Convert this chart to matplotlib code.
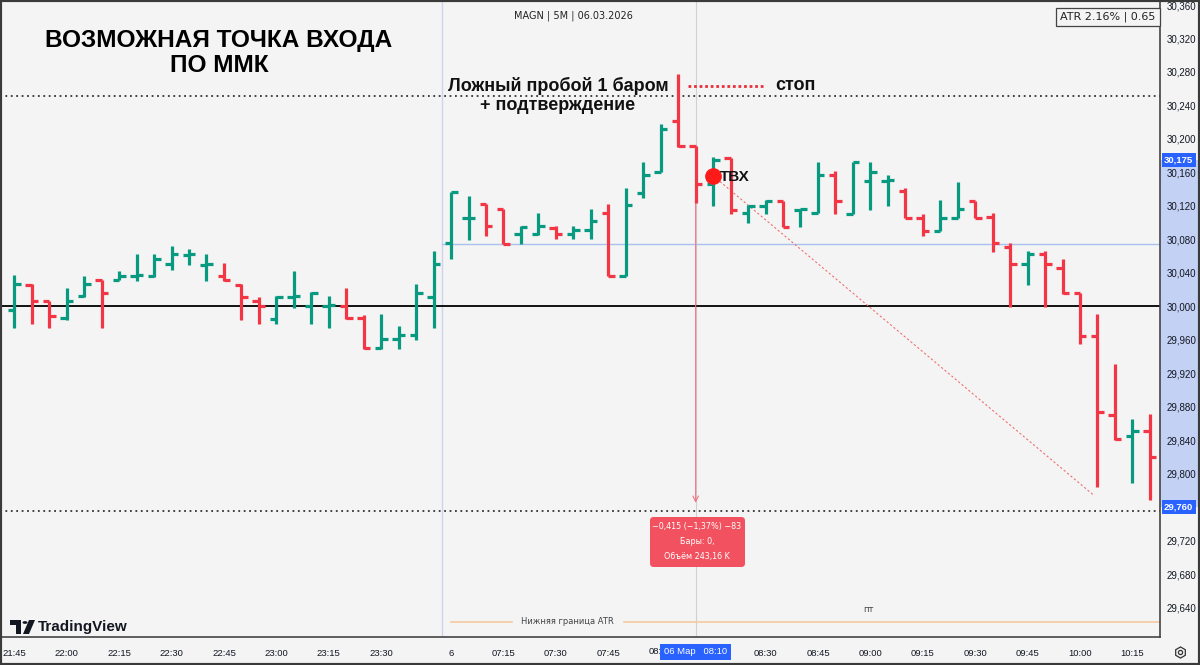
import matplotlib.pyplot as plt
from matplotlib.patches import FancyBboxPatch, Rectangle, Circle, Polygon, RegularPolygon
from matplotlib.ticker import FuncFormatter

plt.rcParams['font.family'] = ['Liberation Sans', 'DejaVu Sans']

# 5-минутные бары MAGN: вечер 05.03 (21:45-23:45) и утро 06.03 (07:00-10:25)
opens = [29996, 30026, 30007, 29986, 30012, 30032, 30032, 30036, 30036, 30051,
         30061, 30050, 30036, 30026, 30007, 29985, 30011, 30001, 30001, 30001,
         29986, 29950, 29961, 29966, 30011,
         30076, 30105, 30122, 30116, 30086, 30086, 30094, 30086, 30091, 30111,
         30036, 30136, 30161, 30222, 30192, 30146, 30177, 30111, 30120, 30126,
         30115, 30111, 30157, 30110, 30150, 30150, 30138, 30105, 30090, 30105,
         30126, 30107, 30071, 30051, 30062, 30046, 30016, 29965, 29870, 29845,
         29851]
highs = [30038, 30027, 30007, 30022, 30036, 30032, 30042, 30062, 30062, 30072,
         30068, 30062, 30052, 30027, 30011, 30012, 30042, 30017, 30012, 30022,
         29990, 29991, 29977, 30027, 30066,
         30137, 30132, 30122, 30116, 30096, 30112, 30096, 30096, 30116, 30122,
         30141, 30172, 30218, 30278, 30192, 30178, 30177, 30121, 30127, 30126,
         30116, 30172, 30162, 30172, 30172, 30157, 30141, 30110, 30127, 30148,
         30126, 30111, 30076, 30066, 30066, 30056, 30016, 29991, 29931, 29866,
         29871]
lows = [29974, 29979, 29974, 29984, 30011, 29974, 30031, 30030, 30035, 30044,
        30050, 30030, 30030, 29984, 29979, 29979, 29998, 29979, 29974, 29985,
        29949, 29949, 29949, 29960, 29974,
        30056, 30079, 30084, 30074, 30074, 30085, 30080, 30080, 30080, 30036,
        30036, 30130, 30160, 30190, 30124, 30120, 30110, 30100, 30110, 30095,
        30095, 30111, 30110, 30110, 30115, 30120, 30105, 30084, 30090, 30105,
        30105, 30065, 29999, 30025, 29999, 30015, 29955, 29784, 29840, 29789,
        29769]
closes = [30027, 30006, 29989, 30006, 30027, 30016, 30036, 30037, 30056, 30062,
          30062, 30051, 30032, 30011, 30001, 30011, 30012, 30016, 30002, 29986,
          29950, 29961, 29966, 30016, 30051,
          30137, 30106, 30096, 30074, 30095, 30096, 30086, 30091, 30102, 30036,
          30121, 30157, 30212, 30191, 30146, 30175, 30115, 30120, 30126, 30095,
          30116, 30157, 30126, 30172, 30161, 30151, 30105, 30090, 30105, 30116,
          30105, 30076, 30051, 30062, 30051, 30016, 29965, 29874, 29841, 29851,
          29820]

tick_pos = [0, 3, 6, 9, 12, 15, 18, 21, 25, 28, 31, 34, 43, 46, 49, 52, 55, 58, 61, 64]
tick_lbl = ["21:45", "22:00", "22:15", "22:30", "22:45", "23:00", "23:15", "23:30", "6",
            "07:15", "07:30", "07:45", "08:30", "08:45", "09:00", "09:15",
            "09:30", "09:45", "10:00", "10:15"]
price_ticks = [v for v in range(29640, 30361, 40) if v != 29760]

# уровни
lvl_zero = 30000
lvl_blue = 30075
lvl_top = 30251
lvl_bottom = 29755
entry_price = 30156
cur_price = 30175
target_price = 29760

GREEN = '#089981'
RED = '#f23645'
BG = '#f4f4f4'
W, H = 1200, 665


def fx(x):
    return x / W


def fy(y):
    return 1 - y / H


fig = plt.figure(figsize=(12, 6.65), dpi=100)
fig.patch.set_facecolor(BG)
ax = fig.add_axes([0, 28 / H, 1160 / W, 637 / H])
ax.set_facecolor(BG)
ax.set_xlim(-0.82, 65.58)
ax.set_ylim(29605, 30366)

# OHLC бары
idx = list(range(len(opens)))
cols = [GREEN if c >= o else RED for o, c in zip(opens, closes)]
ax.vlines(idx, lows, highs, colors=cols, lw=2.3, capstyle='butt', zorder=4)
ax.hlines(opens, [i - 0.37 for i in idx], idx, colors=cols, lw=2.3, capstyle='butt', zorder=4)
ax.hlines(closes, idx, [i + 0.37 for i in idx], colors=cols, lw=2.3, capstyle='butt', zorder=4)

# линии
ax.axvline(24.5, color='#cdd5ee', lw=1, zorder=1)
ax.axvline(39, color='#cfcfd4', lw=0.8, zorder=1)
ax.axhline(lvl_zero, color='#111111', lw=1.4, zorder=2)
ax.plot([24.5, 65.58], [lvl_blue, lvl_blue], color='#a9c1ee', lw=1, zorder=2)
ax.axhline(lvl_top, color='#333333', lw=1.3, ls=(0, (1, 2)), zorder=2)
ax.axhline(lvl_bottom, color='#333333', lw=1.3, ls=(0, (1, 2)), zorder=2)
ax.plot([40, 61.75], [entry_price, 29775], color='#f07070', lw=0.8, ls=(0, (2, 2)), zorder=3)
ax.annotate('', xy=(39, target_price + 2), xytext=(39, cur_price),
            arrowprops=dict(arrowstyle='->', color='#f07582', lw=0.8), zorder=3)
ax.plot([38.56, 42.98], [30263, 30263], color='#e8303a', lw=2, ls=(0, (1, 1)), zorder=5)
ax.plot(40, entry_price, 'o', ms=11, color='#ff1a1a', zorder=6)

# оси
for s in ['top', 'left']:
    ax.spines[s].set_visible(False)
ax.spines['right'].set_color('#444444')
ax.spines['right'].set_linewidth(1.2)
ax.spines['bottom'].set_color('#444444')
ax.spines['bottom'].set_linewidth(1.2)
ax.yaxis.tick_right()
ax.set_yticks(price_ticks)
ax.yaxis.set_major_formatter(FuncFormatter(lambda v, p: f"{int(v):,}"))
ax.tick_params(axis='y', length=0, pad=5, labelsize=7, labelcolor='#131722')
ax.set_xticks(tick_pos)
ax.set_xticklabels(tick_lbl)
ax.tick_params(axis='x', length=0, pad=9, labelsize=6.8, labelcolor='#131722')

# подсветка диапазона на шкале цены
ax.add_patch(Rectangle((1.0, target_price), 40 / 1160, cur_price - target_price,
                       transform=ax.get_yaxis_transform(), fc='#c3d1f5', ec='none',
                       clip_on=False, zorder=1))
for p in [cur_price, target_price]:
    ax.text(1.0035, p, f"{p:,}", transform=ax.get_yaxis_transform(), ha='left', va='center',
            fontsize=6.8, fontweight='bold', color='white', clip_on=False, zorder=5,
            bbox=dict(boxstyle='square,pad=0.25', fc='#2962ff', ec='none'))
ax.text(37.05, -15 / 637, "08:", transform=ax.get_xaxis_transform(),
        ha='right', va='center', fontsize=6.8, color='#131722', clip_on=False)
ax.text(39, -15 / 637, "06 Мар   08:10", transform=ax.get_xaxis_transform(),
        ha='center', va='center', fontsize=6.8, color='white', clip_on=False, zorder=5,
        bbox=dict(boxstyle='square,pad=0.4', fc='#2962ff', ec='none'))

# подписи
fig.text(fx(219), fy(40), "ВОЗМОЖНАЯ ТОЧКА ВХОДА", ha='center', va='center',
         fontsize=17.6, fontweight='bold', color='black')
fig.text(fx(219), fy(66), "ПО ММК", ha='center', va='center',
         fontsize=17.6, fontweight='bold', color='black')
fig.text(fx(573), fy(16), "MAGN | 5M | 06.03.2026", ha='center', va='center',
         fontsize=7, color='#222222', family=['DejaVu Sans'])
fig.text(fx(558), fy(86), "Ложный пробой 1 баром", ha='center', va='center',
         fontsize=13, fontweight='bold', color='#111111')
fig.text(fx(558), fy(105), "+ подтверждение", ha='center', va='center',
         fontsize=13, fontweight='bold', color='#111111')
fig.text(fx(775), fy(86), "стоп", ha='left', va='center',
         fontsize=13, fontweight='bold', color='#111111')
fig.text(fx(720), fy(177), "ТВХ", ha='left', va='center',
         fontsize=11, fontweight='bold', color='#111111')
fig.text(fx(1108), fy(17), "ATR 2.16% | 0.65", ha='center', va='center', fontsize=8,
         color='#222222', family=['DejaVu Sans'],
         bbox=dict(boxstyle='square,pad=0.35', fc=BG, ec='#444444', lw=0.9))

# всплывающая подсказка инструмента измерения
fig.add_artist(FancyBboxPatch((fx(650), fy(567)), 95 / W, 50 / H, transform=fig.transFigure,
                              boxstyle='round,pad=0,rounding_size=0.003',
                              mutation_aspect=W / H, fc='#f2525f', ec='none'))
for yy, t in [(527, "−0,415 (−1,37%) −83"), (541, "Бары: 0,"), (556, "Объём 243,16 K")]:
    fig.text(fx(697), fy(yy), t, ha='center', va='center', fontsize=5.8, color='white',
             family=['DejaVu Sans'])

# линия нижней границы ATR
ax.plot([25, 28.5], [29623, 29623], color='#f7c9a0', lw=1.2, zorder=2)
ax.plot([34.9, 65.58], [29623, 29623], color='#f7c9a0', lw=1.2, zorder=2)
fig.text(fx(567), fy(622), "Нижняя граница ATR", ha='center', va='center', fontsize=6,
         color='#444444', family=['DejaVu Sans'])
fig.text(fx(868), fy(610), "пт", ha='center', va='center', fontsize=6,
         color='#444444', family=['DejaVu Sans'])

# логотип TradingView
fig.add_artist(Polygon([(fx(10), fy(620)), (fx(21), fy(620)), (fx(21), fy(634)),
                        (fx(16), fy(634)), (fx(16), fy(625)), (fx(10), fy(625))],
                       closed=True, transform=fig.transFigure, fc='#131722', ec='none'))
fig.add_artist(Circle((fx(25), fy(622.5)), 2.5 / W, transform=fig.transFigure,
                      fc='#131722', ec='none'))
fig.add_artist(Polygon([(fx(29), fy(620)), (fx(35), fy(620)), (fx(29), fy(634)),
                        (fx(23), fy(634))], closed=True, transform=fig.transFigure,
                       fc='#131722', ec='none'))
fig.text(fx(38), fy(627), "TradingView", ha='left', va='center', fontsize=11,
         fontweight='bold', color='#131722')

# значок настроек в углу шкал
ax.plot([1180 / 1160 * (65.58 + 0.82) - 0.82], [29605 - 15 / 637 * (30366 - 29605)],
        marker='h', ms=8, mfc='none', mec='#333333', mew=0.9, clip_on=False, zorder=5)
ax.plot([1180 / 1160 * (65.58 + 0.82) - 0.82], [29605 - 15 / 637 * (30366 - 29605)],
        marker='o', ms=3, mfc='none', mec='#333333', mew=0.9, clip_on=False, zorder=5)

# рамка скриншота
fig.add_artist(Rectangle((0, 0), 1, 1, transform=fig.transFigure, fill=False,
                         ec='#3a3a3a', lw=3))

fig.savefig('out.png', dpi=100, facecolor=BG)
